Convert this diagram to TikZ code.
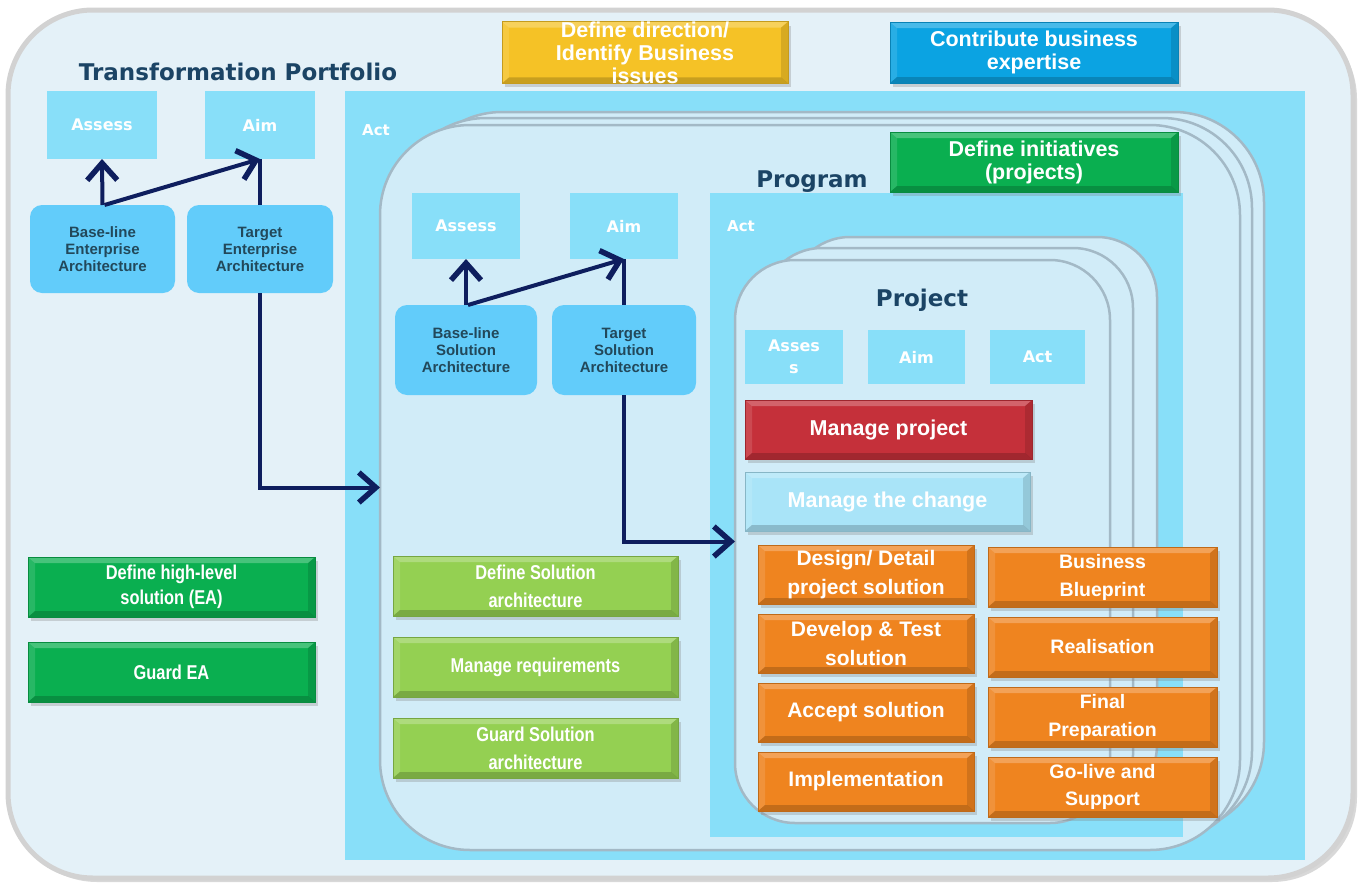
\documentclass[tikz,border=0pt]{standalone}
\usepackage{fontspec}
\setmainfont{Liberation Sans}
\newfontfamily\titlefont{DejaVu Sans}
\newfontfamily\narrowfont[FakeStretch=0.82]{Liberation Sans}
\usetikzlibrary{arrows.meta,shadows}
\definecolor{bgouter}{HTML}{E4F1F8}
\definecolor{cyanA}{HTML}{88DFF9}
\definecolor{progfill}{HTML}{D1ECF8}
\definecolor{layeredge}{HTML}{A3B9C6}
\definecolor{archblue}{HTML}{62CCFA}
\definecolor{archtext}{HTML}{22485A}
\definecolor{titleblue}{HTML}{1B4465}
\definecolor{navy}{HTML}{0E1E5E}
\definecolor{cyellow}{HTML}{F5C226}
\definecolor{cblue}{HTML}{0BA3E2}
\definecolor{cgreen}{HTML}{0AAF50}
\definecolor{clgreen}{HTML}{94D052}
\definecolor{cred}{HTML}{C5303A}
\definecolor{cchange}{HTML}{A9E4F8}
\definecolor{corange}{HTML}{EF841F}
\begin{document}
\begin{tikzpicture}[x=1pt,y=-1pt,
  every node/.style={inner sep=0pt, outer sep=0pt},
  bevel/.style={path picture={
    \fill[white,opacity=0.25] (path picture bounding box.north west) -- (path picture bounding box.north east)
      -- ([xshift=-7pt,yshift=-6pt]path picture bounding box.north east) -- ([xshift=7pt,yshift=-6pt]path picture bounding box.north west) -- cycle;
    \fill[white,opacity=0.12] (path picture bounding box.north west) -- (path picture bounding box.south west)
      -- ([xshift=7pt,yshift=6pt]path picture bounding box.south west) -- ([xshift=7pt,yshift=-6pt]path picture bounding box.north west) -- cycle;
    \fill[black,opacity=0.18] (path picture bounding box.south west) -- (path picture bounding box.south east)
      -- ([xshift=-7pt,yshift=6pt]path picture bounding box.south east) -- ([xshift=7pt,yshift=6pt]path picture bounding box.south west) -- cycle;
    \fill[black,opacity=0.12] (path picture bounding box.north east) -- (path picture bounding box.south east)
      -- ([xshift=-7pt,yshift=6pt]path picture bounding box.south east) -- ([xshift=-7pt,yshift=-6pt]path picture bounding box.north east) -- cycle;
  }},
  cbox/.style={rectangle, fill=#1, draw=#1!80!black, line width=1pt, align=center, text=white, bevel,
    font=\bfseries\fontsize{21.5}{23}\selectfont,
    drop shadow={opacity=0.3, shadow xshift=3pt, shadow yshift=-4pt}},
  nbox/.style={cbox=#1, font=\narrowfont\bfseries\fontsize{20}{28}\selectfont},
  obox/.style={cbox=corange, font=\bfseries\fontsize{21}{29}\selectfont},
  lab/.style={rectangle, fill=cyanA, align=center, text=white, font=\titlefont\bfseries\fontsize{16}{22}\selectfont},
  actlab/.style={text=white, font=\titlefont\bfseries\fontsize{15}{17}\selectfont},
  arch/.style={rectangle, rounded corners=12pt, fill=archblue, align=center, text=archtext,
    font=\bfseries\fontsize{15}{17}\selectfont},
  tit/.style={text=titleblue, font=\titlefont\bfseries\fontsize{23}{26}\selectfont},
  layer/.style={rectangle, fill=progfill, draw=layeredge, line width=2.5pt, rounded corners=#1},
  arr/.style={draw=navy, line width=4pt, -{Straight Barb[length=17pt,width=30pt,line width=1.5pt 1]}},
  plain/.style={draw=navy, line width=4pt}
]
\useasboundingbox (0,0) rectangle (1361,886);
\fill[white] (0,0) rectangle (1361,886);
% outer portfolio container
\draw[fill=bgouter, draw=gray!35, line width=5pt, rounded corners=85pt,
  drop shadow={opacity=0.3, shadow xshift=4pt, shadow yshift=-4pt}] (8,10) rectangle (1353,878);
\node[tit] (ptitle) at (238,72) {Transformation Portfolio};
% portfolio act area
\node[rectangle, fill=cyanA, minimum width=960pt, minimum height=769pt] (pact) at (825,475.5) {};
\node[actlab] (pactl) at (376,130) {Act};
% program layers
\draw[layer=90pt] (412,112) rectangle (1264,832);
\draw[layer=90pt] (396,118) rectangle (1252,841);
\node[layer=90pt, minimum width=860pt, minimum height=725pt] (prog) at (810,487.5) {};
\node[tit] (progt) at (812,182) {Program};
% program act area
\node[rectangle, fill=cyanA, minimum width=473pt, minimum height=644pt] (gact) at (946.5,515) {};
\node[actlab] (gactl) at (741,226) {Act};
% project layers
\draw[layer=60pt] (790,237) rectangle (1157,805);
\draw[layer=60pt] (762,248) rectangle (1133,815);
\node[layer=60pt, minimum width=375pt, minimum height=563pt] (proj) at (922.5,541.5) {};
\node[tit] (projt) at (922,300) {Project};

% portfolio assess / aim
\node[lab, minimum width=110pt, minimum height=68pt] (pas) at (102,125) {Assess};
\node[lab, minimum width=110pt, minimum height=68pt] (paim) at (260,125) {Aim};
\node[arch, minimum width=145pt, minimum height=88pt] (bea) at (102.5,249) {Base-line\\Enterprise\\Architecture};
\node[arch, minimum width=146pt, minimum height=88pt] (tea) at (260,249) {Target\\Enterprise\\Architecture};
% program assess / aim
\node[lab, minimum width=108pt, minimum height=66pt] (gas) at (466,226) {Assess};
\node[lab, minimum width=108pt, minimum height=66pt] (gaim) at (624,226) {Aim};
\node[arch, minimum width=142pt, minimum height=90pt] (bsa) at (466,350) {Base-line\\Solution\\Architecture};
\node[arch, minimum width=144pt, minimum height=90pt] (tsa) at (624,350) {Target\\Solution\\Architecture};
% project assess / aim / act
\node[lab, minimum width=98pt, minimum height=54pt] (jas) at (794,357) {Asses\\s};
\node[lab, minimum width=97pt, minimum height=54pt] (jaim) at (916.5,357) {Aim};
\node[lab, minimum width=95pt, minimum height=54pt] (jact) at (1037.5,357) {Act};

% top boxes
\node[cbox=cyellow, minimum width=286pt, minimum height=61pt] (dir) at (645,52.5) {Define direction/\\Identify Business\\issues};
\node[cbox=cblue, minimum width=288pt, minimum height=61pt] (contrib) at (1034,52.5) {Contribute business\\expertise};
\node[cbox=cgreen, minimum width=288pt, minimum height=60pt] (init) at (1034,162) {Define initiatives\\(projects)};
% portfolio green
\node[nbox=cgreen, minimum width=287pt, minimum height=60pt, font=\narrowfont\bfseries\fontsize{20}{25}\selectfont] (dhl) at (171.5,587) {Define high-level\\solution (EA)};
\node[nbox=cgreen, minimum width=287pt, minimum height=60pt] (gea) at (171.5,672) {Guard EA};
% program light green
\node[nbox=clgreen, minimum width=285pt, minimum height=60pt] (dsa) at (535.5,586) {Define Solution\\architecture};
\node[nbox=clgreen, minimum width=285pt, minimum height=60pt] (mreq) at (535.5,667) {Manage requirements};
\node[nbox=clgreen, minimum width=285pt, minimum height=60pt] (gsa) at (535.5,748) {Guard Solution\\architecture};
% project
\node[cbox=cred, minimum width=287pt, minimum height=59pt] (mproj) at (888.5,429.5) {Manage project};
\node[cbox=cchange, minimum width=285pt, minimum height=59pt] (mchg) at (887.5,501.5) {Manage the change};
\node[obox, minimum width=216pt, minimum height=59pt] (o1) at (866,574.5) {Design/ Detail\\project solution};
\node[obox, minimum width=216pt, minimum height=59pt] (o2) at (866,643.5) {Develop \& Test\\solution};
\node[obox, minimum width=216pt, minimum height=59pt] (o3) at (866,712.5) {Accept solution};
\node[obox, minimum width=216pt, minimum height=59pt] (o4) at (866,781.5) {Implementation};
\node[obox, minimum width=229pt, minimum height=60pt, font=\bfseries\fontsize{19.5}{28}\selectfont] (r1) at (1102.5,577) {Business\\Blueprint};
\node[obox, minimum width=229pt, minimum height=60pt, font=\bfseries\fontsize{19.5}{28}\selectfont] (r2) at (1102.5,647) {Realisation};
\node[obox, minimum width=229pt, minimum height=60pt, font=\bfseries\fontsize{19.5}{28}\selectfont] (r3) at (1102.5,717) {Final\\Preparation};
\node[obox, minimum width=229pt, minimum height=60pt, font=\bfseries\fontsize{19.5}{27}\selectfont] (r4) at (1102.5,787) {Go-live and\\Support};

% connectors portfolio
\draw[plain] (tea.north) -- (paim.south);
\draw[arr] (bea.north) -- (pas.south);
\draw[arr] ([xshift=2pt]bea.north) -- (paim.south);
\draw[arr] (tea.south) |- (prog.west);
% connectors program
\draw[plain] (tsa.north) -- (gaim.south);
\draw[arr] (bsa.north) -- (gas.south);
\draw[arr] ([xshift=2pt]bsa.north) -- (gaim.south);
\draw[arr] (tsa.south) |- (proj.west);
\end{tikzpicture}
\end{document}
